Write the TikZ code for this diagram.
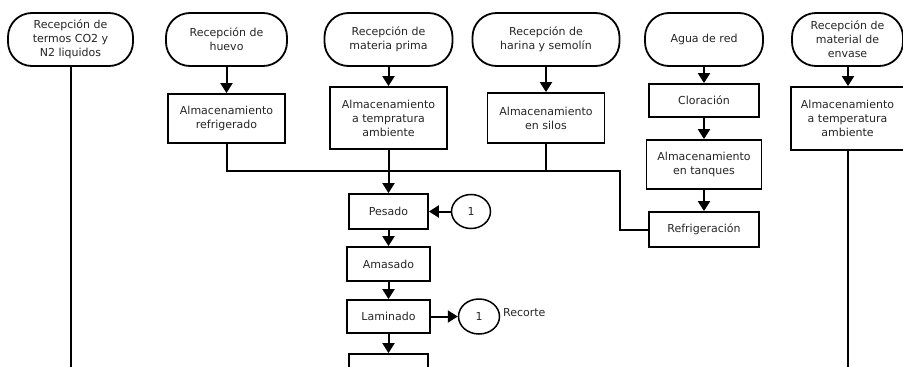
\documentclass[tikz,border=0pt]{standalone}
\usepackage{fontspec}
\setmainfont{DejaVu Sans}
\usetikzlibrary{arrows.meta,shapes.geometric}
\begin{document}
\begin{tikzpicture}[x=1pt,y=-1pt,
  every node/.style={font=\fontsize{11}{14}\selectfont, text=black!85, align=center, inner sep=0pt},
  term/.style={draw, line width=1.8pt, rounded corners=24pt, minimum height=53pt},
  proc/.style={draw, line width=1.8pt},
  conn/.style={draw, line width=1.5pt, ellipse},
  ln/.style={line width=2pt},
  arr/.style={line width=2pt, -{Triangle[width=12pt,length=10pt]}}
]
\useasboundingbox (0,0) rectangle (903,367);
\clip (0,0) rectangle (903,367);
\fill[white] (0,0) rectangle (903,367);

% terminals
\node[term, minimum width=125pt] (t1) at (70.5,39.5) {Recepción de\\termos CO2 y\\N2 liquidos};
\node[term, minimum width=121pt] (t2) at (226.5,39.5) {Recepción de\\huevo};
\node[term, minimum width=128pt] (t3) at (388.5,39.5) {Recepción de\\materia prima};
\node[term, minimum width=147pt] (t4) at (546,39.5) {Recepción de\\harina y semolín};
\node[term, minimum width=118pt] (t5) at (704,39.5) {Agua de red};
\node[term, minimum width=111pt] (t6) at (847.5,39.5) {Recepción de\\material de\\envase};

% process boxes
\node[proc, minimum width=117pt, minimum height=49pt] (b2) at (226.5,118.5) {Almacenamiento\\refrigerado};
\node[proc, minimum width=117pt, minimum height=62pt] (b3) at (388.5,118) {Almacenamiento\\a tempratura\\ambiente};
\node[proc, minimum width=117pt, minimum height=50pt] (b4) at (546,118) {Almacenamiento\\en silos};
\node[proc, minimum width=110pt, minimum height=33pt] (clor) at (704,100.5) {Cloración};
\node[proc, minimum width=115pt, minimum height=49pt] (tanq) at (704,164.5) {Almacenamiento\\en tanques};
\node[proc, minimum width=110pt, minimum height=35pt] (refr) at (704,229.5) {Refrigeración};
\node[proc, minimum width=113pt, minimum height=63pt] (b6) at (847.5,118.5) {Almacenamiento\\a temperatura\\ambiente};

\node[proc, minimum width=79pt, minimum height=35pt] (pes) at (388.5,211.5) {Pesado};
\node[proc, minimum width=83pt, minimum height=34pt] (amas) at (388.5,264) {Amasado};
\node[proc, minimum width=83pt, minimum height=33pt] (lam) at (388.5,316.5) {Laminado};
\node[proc, minimum width=79pt, minimum height=35pt] (nxt) at (388.5,371.5) {};

% connectors (circles)
\node[conn, minimum width=39pt, minimum height=34pt] (c1) at (471,211.5) {1};
\node[conn, minimum width=41pt, minimum height=35pt] (c2) at (479,316.5) {1};
\node[anchor=west] (rec) at (503,313) {Recorte};

% free ends
\coordinate (e1) at (70.5,380);
\coordinate (e6) at (848,380);
\coordinate (j) at (620,171);

% lines
\draw[ln] (t1.south) -- (e1);
\draw[ln] (b6.south -| e6) -- (e6);
\draw[arr] (t2.south) -- (b2.north);
\draw[arr] (t3.south) -- (b3.north);
\draw[arr] (t4.south) -- (b4.north);
\draw[arr] (t5.south) -- (clor.north);
\draw[arr] (clor.south) -- (tanq.north);
\draw[arr] (tanq.south) -- (refr.north);
\draw[arr] (t6.south -| e6) -- (b6.north -| e6);

\draw[ln] (b2.south) |- (j) |- (refr.west);
\draw[ln] (b4.south) -- (b4.south |- j);
\draw[arr] (b3.south) -- (pes.north);
\draw[arr] (c1.west) -- (pes.east);
\draw[arr] (pes.south) -- (amas.north);
\draw[arr] (amas.south) -- (lam.north);
\draw[arr] (lam.south) -- (nxt.north);
\draw[arr] (lam.east) -- (c2.west);
\end{tikzpicture}
\end{document}
